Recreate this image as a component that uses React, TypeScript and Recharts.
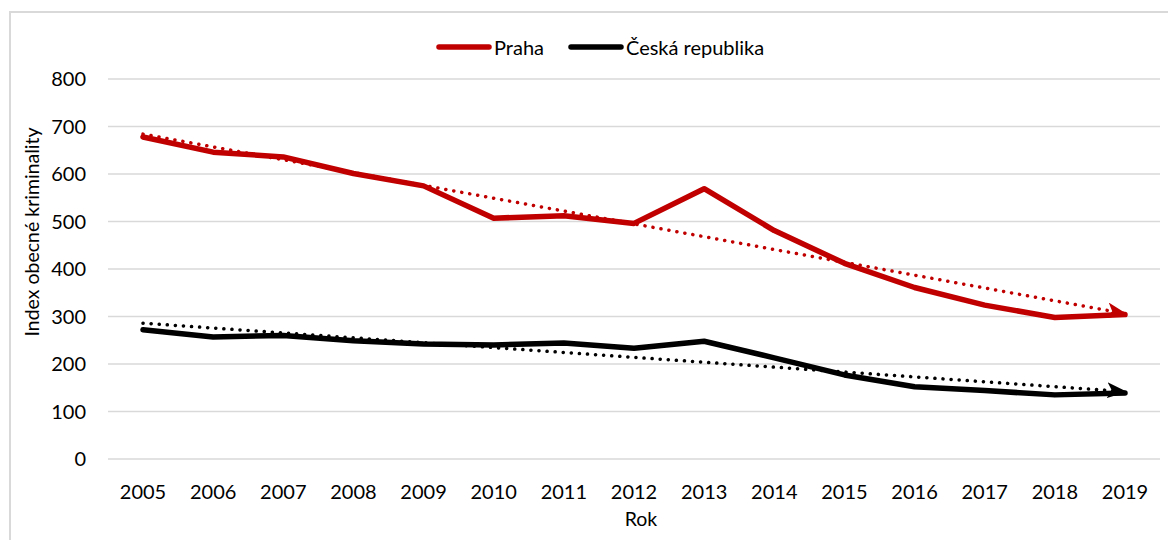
import React from 'react';
import { LineChart, Line, XAxis, YAxis, CartesianGrid } from 'recharts';

const years = ['2005', '2006', '2007', '2008', '2009', '2010', '2011', '2012', '2013', '2014', '2015', '2016', '2017', '2018', '2019'];
const praha = [678, 646, 636, 601, 575, 507, 512, 496, 569, 481, 412, 361, 324, 298, 304];
const ceskaRepublika = [272, 257, 260, 249, 242, 240, 244, 233, 248, 213, 177, 152, 144, 135, 139];
// linear trend endpoints (first year, last year)
const prahaTrend = [684, 306];
const crTrend = [286, 142];
const yTicks = [0, 100, 200, 300, 400, 500, 600, 700, 800];

const RED = '#C00000';
const BLACK = '#000000';
const FONT = 'Lato, "Open Sans", sans-serif';

const data = years.map((y, i) => ({
  year: y,
  praha: praha[i],
  cr: ceskaRepublika[i],
  prahaTrend: i === 0 ? prahaTrend[0] : i === years.length - 1 ? prahaTrend[1] : null,
  crTrend: i === 0 ? crTrend[0] : i === years.length - 1 ? crTrend[1] : null,
}));

const LegendItem = ({ color, text, mr }: { color: string; text: string; mr: number }) => (
  <div style={{ display: 'flex', alignItems: 'center', marginRight: mr }}>
    <svg width={56} height={10} style={{ marginRight: 2, display: 'block' }}>
      <line x1={3} y1={5} x2={53} y2={5} stroke={color} strokeWidth={5.5} strokeLinecap="round" />
    </svg>
    <span>{text}</span>
  </div>
);

const YTitle = (props: any) => {
  const vb = props.viewBox || {};
  const x = (vb.x ?? 0) - 9;
  const y = (vb.y ?? 0) + (vb.height ?? 0) / 2 - 37;
  return (
    <text x={x} y={y} transform={`rotate(-90, ${x}, ${y})`} textAnchor="middle" fontFamily={FONT} fontSize={19.5} fill="#000">
      Index obecné kriminality
    </text>
  );
};

const XTitle = (props: any) => {
  const vb = props.viewBox || {};
  const x = (vb.x ?? 0) + (vb.width ?? 0) / 2 + 7;
  const y = (vb.y ?? 0) + 67;
  return (
    <text x={x} y={y} textAnchor="middle" fontFamily={FONT} fontSize={19.5} fill="#000">
      Rok
    </text>
  );
};

export default function App() {
  return (
    <div style={{ width: 1168, height: 532, overflow: 'hidden', position: 'relative' }}>
      <div style={{ position: 'absolute', left: 1, top: 3, width: 1300, height: 700, border: '2px solid #d9d9d9', boxSizing: 'border-box' }} />
      <div style={{ position: 'absolute', left: 428, top: 27, height: 24, display: 'flex', alignItems: 'center', fontFamily: FONT, fontSize: 20, color: '#000', whiteSpace: 'nowrap' }}>
        <LegendItem color={RED} text="Praha" mr={24} />
        <LegendItem color={BLACK} text="Česká republika" mr={0} />
      </div>
      <div style={{ position: 'absolute', left: 0, top: 0 }}>
        <LineChart width={1168} height={532} data={data} margin={{ top: 71, right: 16, left: 40, bottom: 0 }}>
          <defs>
            <marker id="arrowRed" viewBox="0 0 20 16" refX={18} refY={8} markerWidth={20} markerHeight={16} markerUnits="userSpaceOnUse" orient="auto">
              <path d="M0,0 L20,8 L0,16 L5,8 Z" fill={RED} />
            </marker>
            <marker id="arrowBlack" viewBox="0 0 20 16" refX={18} refY={8} markerWidth={20} markerHeight={16} markerUnits="userSpaceOnUse" orient="auto">
              <path d="M0,0 L20,8 L0,16 L5,8 Z" fill={BLACK} />
            </marker>
          </defs>
          <CartesianGrid vertical={false} stroke="#d9d9d9" strokeWidth={1.5} />
          <XAxis
            dataKey="year"
            axisLine={false}
            tickLine={false}
            tickSize={0}
            tickMargin={26}
            height={81}
            interval={0}
            padding={{ left: 35, right: 35 }}
            tick={{ fontFamily: FONT, fontSize: 20, fill: '#000' }}
            label={<XTitle />}
          />
          <YAxis
            domain={[0, 800]}
            ticks={yTicks}
            axisLine={false}
            tickLine={false}
            tickSize={0}
            tickMargin={22}
            width={60}
            interval={0}
            tick={{ fontFamily: FONT, fontSize: 20, fill: '#000' }}
            label={<YTitle />}
          />
          <Line dataKey="praha" stroke={RED} strokeWidth={5.5} dot={false} activeDot={false} strokeLinejoin="round" strokeLinecap="round" isAnimationActive={false} />
          <Line dataKey="cr" stroke={BLACK} strokeWidth={5.5} dot={false} activeDot={false} strokeLinejoin="round" strokeLinecap="round" isAnimationActive={false} />
          <Line dataKey="prahaTrend" connectNulls stroke={RED} strokeWidth={3.5} strokeDasharray="0.1 8" strokeLinecap="round" dot={false} activeDot={false} markerEnd="url(#arrowRed)" isAnimationActive={false} />
          <Line dataKey="crTrend" connectNulls stroke={BLACK} strokeWidth={3.5} strokeDasharray="0.1 8" strokeLinecap="round" dot={false} activeDot={false} markerEnd="url(#arrowBlack)" isAnimationActive={false} />
        </LineChart>
      </div>
    </div>
  );
}
